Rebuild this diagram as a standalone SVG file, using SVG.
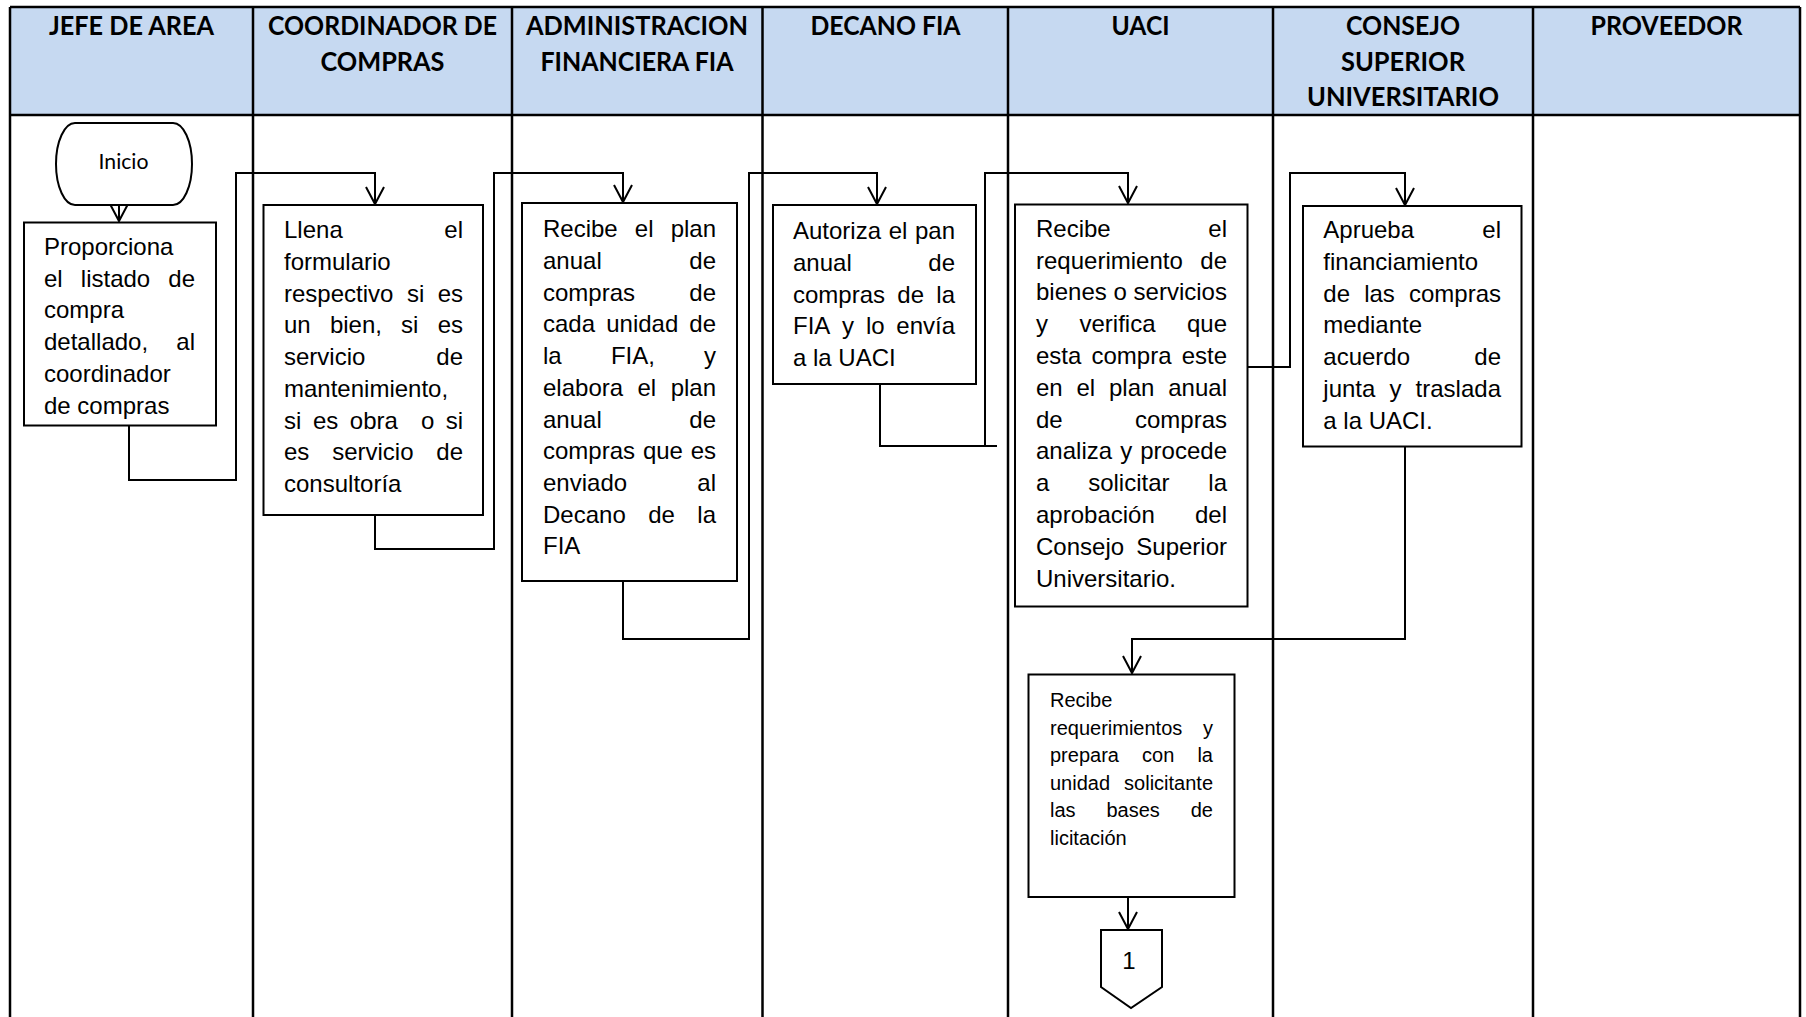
<svg xmlns="http://www.w3.org/2000/svg" width="1806" height="1017" viewBox="0 0 1806 1017">
  <style>
    .grid { stroke: #000; stroke-width: 2.5; fill: none; }
    .hdfill { fill: #C6D9F1; }
    .hd { font-family: Lato, "Open Sans", sans-serif; font-weight: 700; font-size: 26px; fill: #000; text-anchor: middle; }
    .box { fill: #fff; stroke: #000; stroke-width: 2; }
    .t { font-family: "Liberation Sans", Arial, sans-serif; font-size: 24px; fill: #000; }
    .ts { font-family: "Liberation Sans", Arial, sans-serif; font-size: 20px; fill: #000; }
    .e { text-anchor: end; }
    .conn { fill: none; stroke: #000; stroke-width: 2; }
    .arr { marker-end: url(#head); }
  </style>
  <defs>
    <marker id="head" markerUnits="userSpaceOnUse" viewBox="-20 -12 24 24" refX="0" refY="0" markerWidth="24" markerHeight="24" orient="auto">
      <path d="M-17,-9 L0,0 L-17,9" fill="none" stroke="#000" stroke-width="2"/>
    </marker>
  </defs>

  <!-- swimlane table -->
  <g id="lanes">
    <rect class="hdfill" x="10" y="7" width="1790" height="108"/>
    <path class="grid" d="M10,7 H1800 M10,115 H1800 M10,7 V1017 M1800,7 V1017 M253,7 V1017 M512,7 V1017 M762.5,7 V1017 M1008,7 V1017 M1273,7 V1017 M1533,7 V1017"/>
    <text class="hd" x="131.5" y="35" textLength="165" lengthAdjust="spacingAndGlyphs">JEFE DE AREA</text>
    <text class="hd" x="382.5" y="35" textLength="229" lengthAdjust="spacingAndGlyphs">COORDINADOR DE</text>
    <text class="hd" x="382.5" y="70.5" textLength="124" lengthAdjust="spacingAndGlyphs">COMPRAS</text>
    <text class="hd" x="637" y="35" textLength="222" lengthAdjust="spacingAndGlyphs">ADMINISTRACION</text>
    <text class="hd" x="637" y="70.5" textLength="193" lengthAdjust="spacingAndGlyphs">FINANCIERA FIA</text>
    <text class="hd" x="885.5" y="35" textLength="150" lengthAdjust="spacingAndGlyphs">DECANO FIA</text>
    <text class="hd" x="1140.5" y="35" textLength="58" lengthAdjust="spacingAndGlyphs">UACI</text>
    <text class="hd" x="1403" y="35" textLength="114" lengthAdjust="spacingAndGlyphs">CONSEJO</text>
    <text class="hd" x="1403" y="70.5" textLength="124" lengthAdjust="spacingAndGlyphs">SUPERIOR</text>
    <text class="hd" x="1403" y="106" textLength="192" lengthAdjust="spacingAndGlyphs">UNIVERSITARIO</text>
    <text class="hd" x="1666.5" y="35" textLength="152" lengthAdjust="spacingAndGlyphs">PROVEEDOR</text>
  </g>

  <!-- connectors -->
  <g id="conectores">
    <path class="conn arr" d="M119,189 V221"/>
    <path class="conn arr" d="M129,413 V480 H236 V173 H375 V204"/>
    <path class="conn arr" d="M375,515 V549 H494 V173 H623 V202"/>
    <path class="conn arr" d="M623,581 V639 H749 V173 H877 V204"/>
    <path class="conn" d="M880,384 V446 H997"/>
    <path class="conn arr" d="M985,446 V173 H1128 V203"/>
    <path class="conn arr" d="M1245,367 H1290 V173 H1405 V205"/>
    <path class="conn arr" d="M1405,447 V639 H1132 V673"/>
    <path class="conn arr" d="M1128,897 V929"/>
  </g>

  <!-- start terminal -->
  <g id="inicio">
    <path class="box" d="M75,123 H173 A19,41 0 0 1 173,205 H75 A19,41 0 0 1 75,123 Z"/>
    <text x="123.5" y="169" font-family="Lato, 'Open Sans', sans-serif" font-size="21" text-anchor="middle" textLength="50" lengthAdjust="spacingAndGlyphs">Inicio</text>
  </g>

  <!-- JEFE DE AREA: justified lines, one tspan per word (line breaks kept inside the tags) -->
  <g id="proporciona-listado">
    <rect class="box" x="24" y="222.5" width="192" height="203"/>
    <text class="t"><tspan x="44" y="255">Proporciona</tspan
      ><tspan x="44" y="286.7">el</tspan><tspan x="80.8" y="286.7">listado</tspan><tspan class="e" x="195" y="286.7">de</tspan
      ><tspan x="44" y="318.4">compra</tspan
      ><tspan x="44" y="350.1">detallado,</tspan><tspan class="e" x="195" y="350.1">al</tspan
      ><tspan x="44" y="381.8">coordinador</tspan
      ><tspan x="44" y="413.5">de compras</tspan></text>
  </g>

  <!-- COORDINADOR DE COMPRAS -->
  <g id="llena-formulario">
    <rect class="box" x="263.5" y="205" width="219.5" height="310"/>
    <text class="t"><tspan x="284" y="238.3">Llena</tspan><tspan class="e" x="463" y="238.3">el</tspan
      ><tspan x="284" y="270">formulario</tspan
      ><tspan x="284" y="301.7">respectivo</tspan><tspan x="406.9" y="301.7">si</tspan><tspan class="e" x="463" y="301.7">es</tspan
      ><tspan x="284" y="333.4">un</tspan><tspan x="329.9" y="333.4">bien,</tspan><tspan x="401.1" y="333.4">si</tspan><tspan class="e" x="463" y="333.4">es</tspan
      ><tspan x="284" y="365.1">servicio</tspan><tspan class="e" x="463" y="365.1">de</tspan
      ><tspan x="284" y="396.8">mantenimiento,</tspan
      ><tspan x="284" y="428.5">si</tspan><tspan x="312.9" y="428.5">es</tspan><tspan x="349.8" y="428.5">obra</tspan><tspan x="420.9" y="428.5">o</tspan><tspan class="e" x="463" y="428.5">si</tspan
      ><tspan x="284" y="460.2">es</tspan><tspan x="332.2" y="460.2">servicio</tspan><tspan class="e" x="463" y="460.2">de</tspan
      ><tspan x="284" y="491.9">consultoría</tspan></text>
  </g>

  <!-- ADMINISTRACION FINANCIERA FIA -->
  <g id="elabora-plan">
    <rect class="box" x="522" y="203" width="215" height="378"/>
    <text class="t"><tspan x="543" y="237.3">Recibe</tspan><tspan x="634.8" y="237.3">el</tspan><tspan class="e" x="716" y="237.3">plan</tspan
      ><tspan x="543" y="269">anual</tspan><tspan class="e" x="716" y="269">de</tspan
      ><tspan x="543" y="300.7">compras</tspan><tspan class="e" x="716" y="300.7">de</tspan
      ><tspan x="543" y="332.4">cada</tspan><tspan x="606.2" y="332.4">unidad</tspan><tspan class="e" x="716" y="332.4">de</tspan
      ><tspan x="543" y="364.1">la</tspan><tspan x="610.9" y="364.1">FIA,</tspan><tspan class="e" x="716" y="364.1">y</tspan
      ><tspan x="543" y="395.8">elabora</tspan><tspan x="637.5" y="395.8">el</tspan><tspan class="e" x="716" y="395.8">plan</tspan
      ><tspan x="543" y="427.5">anual</tspan><tspan class="e" x="716" y="427.5">de</tspan
      ><tspan x="543" y="459.2">compras</tspan><tspan x="642.9" y="459.2">que</tspan><tspan class="e" x="716" y="459.2">es</tspan
      ><tspan x="543" y="490.9">enviado</tspan><tspan class="e" x="716" y="490.9">al</tspan
      ><tspan x="543" y="522.6">Decano</tspan><tspan x="648.2" y="522.6">de</tspan><tspan class="e" x="716" y="522.6">la</tspan
      ><tspan x="543" y="554.3">FIA</tspan></text>
  </g>

  <!-- DECANO FIA -->
  <g id="autoriza-plan">
    <rect class="box" x="773" y="205" width="203" height="179"/>
    <text class="t"><tspan x="793" y="239.3">Autoriza</tspan><tspan x="888.7" y="239.3">el</tspan><tspan class="e" x="955" y="239.3">pan</tspan
      ><tspan x="793" y="271">anual</tspan><tspan class="e" x="955" y="271">de</tspan
      ><tspan x="793" y="302.7">compras</tspan><tspan x="897.3" y="302.7">de</tspan><tspan class="e" x="955" y="302.7">la</tspan
      ><tspan x="793" y="334.4">FIA</tspan><tspan x="842.1" y="334.4">y</tspan><tspan x="865.9" y="334.4">lo</tspan><tspan class="e" x="955" y="334.4">envía</tspan
      ><tspan x="793" y="366.1">a la UACI</tspan></text>
  </g>

  <!-- UACI: verifica requerimiento -->
  <g id="verifica-requerimiento">
    <rect class="box" x="1015" y="204.5" width="232.5" height="402"/>
    <text class="t"><tspan x="1036" y="236.7">Recibe</tspan><tspan class="e" x="1227" y="236.7">el</tspan
      ><tspan x="1036" y="268.5">requerimiento</tspan><tspan class="e" x="1227" y="268.5">de</tspan
      ><tspan x="1036" y="332.1">y</tspan><tspan x="1079.5" y="332.1">verifica</tspan><tspan class="e" x="1227" y="332.1">que</tspan
      ><tspan x="1036" y="363.9">esta</tspan><tspan x="1091.5" y="363.9">compra</tspan><tspan class="e" x="1227" y="363.9">este</tspan
      ><tspan x="1036" y="395.7">en</tspan><tspan x="1076.5" y="395.7">el</tspan><tspan x="1109" y="395.7">plan</tspan><tspan class="e" x="1227" y="395.7">anual</tspan
      ><tspan x="1036" y="427.5">de</tspan><tspan class="e" x="1227" y="427.5">compras</tspan
      ><tspan x="1036" y="459.3">analiza</tspan><tspan x="1120.2" y="459.3">y</tspan><tspan class="e" x="1227" y="459.3">procede</tspan
      ><tspan x="1036" y="491.1">a</tspan><tspan x="1088.2" y="491.1">solicitar</tspan><tspan class="e" x="1227" y="491.1">la</tspan
      ><tspan x="1036" y="522.9">aprobación</tspan><tspan class="e" x="1227" y="522.9">del</tspan
      ><tspan x="1036" y="554.7">Consejo</tspan><tspan class="e" x="1227" y="554.7">Superior</tspan
      ><tspan x="1036" y="586.5">Universitario.</tspan></text>
    <text class="t" x="1036" y="300.3" textLength="191" lengthAdjust="spacingAndGlyphs">bienes o servicios</text>
  </g>

  <!-- CONSEJO SUPERIOR UNIVERSITARIO -->
  <g id="aprueba-financiamiento">
    <rect class="box" x="1303" y="206" width="218.5" height="240.5"/>
    <text class="t"><tspan x="1323.3" y="238.3">Aprueba</tspan><tspan class="e" x="1501" y="238.3">el</tspan
      ><tspan x="1323.3" y="270">financiamiento</tspan
      ><tspan x="1323.3" y="301.7">de</tspan><tspan x="1364.2" y="301.7">las</tspan><tspan class="e" x="1501" y="301.7">compras</tspan
      ><tspan x="1323.3" y="333.4">mediante</tspan
      ><tspan x="1323.3" y="365.1">acuerdo</tspan><tspan class="e" x="1501" y="365.1">de</tspan
      ><tspan x="1323.3" y="396.8">junta</tspan><tspan x="1389.5" y="396.8">y</tspan><tspan class="e" x="1501" y="396.8">traslada</tspan
      ><tspan x="1323.3" y="428.5">a la UACI.</tspan></text>
  </g>

  <!-- UACI: bases de licitacion -->
  <g id="bases-licitacion">
    <rect class="box" x="1028.5" y="674.5" width="206" height="222.5"/>
    <text class="ts"><tspan x="1050" y="707">Recibe</tspan
      ><tspan x="1050" y="734.5">requerimientos</tspan><tspan class="e" x="1213" y="734.5">y</tspan
      ><tspan x="1050" y="762">prepara</tspan><tspan x="1142.1" y="762">con</tspan><tspan class="e" x="1213" y="762">la</tspan
      ><tspan x="1050" y="789.5">unidad</tspan><tspan class="e" x="1213" y="789.5">solicitante</tspan
      ><tspan x="1050" y="817">las</tspan><tspan x="1106.5" y="817">bases</tspan><tspan class="e" x="1213" y="817">de</tspan
      ><tspan x="1050" y="844.5">licitación</tspan></text>
  </g>

  <!-- off-page connector -->
  <g id="conector-1">
    <path class="box" d="M1101,930 H1162 V987 L1131,1008 L1101,987 Z"/>
    <text class="t" x="1129" y="969" font-size="22" text-anchor="middle">1</text>
  </g>
</svg>
